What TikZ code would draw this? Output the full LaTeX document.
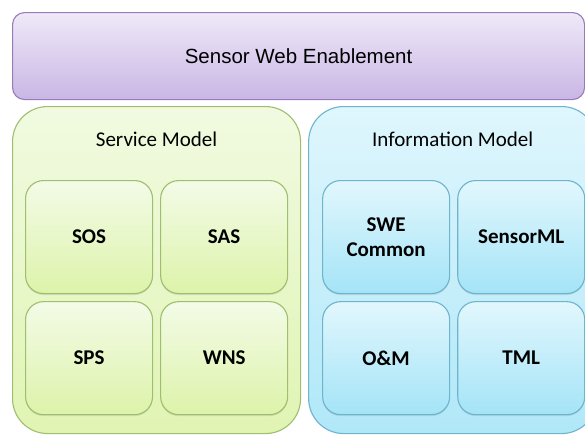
\documentclass[tikz,border=0pt]{standalone}
\usepackage{fontspec}
\setmainfont{Carlito}
\newfontfamily\arialfont{Liberation Sans}
\usetikzlibrary{positioning,shadows}

\definecolor{sweborder}{RGB}{150,125,186}
\definecolor{swetop}{RGB}{239,233,248}
\definecolor{swebottom}{RGB}{201,182,229}
\definecolor{servborder}{RGB}{160,190,112}
\definecolor{servtop}{RGB}{243,251,231}
\definecolor{servbottom}{RGB}{221,243,170}
\definecolor{infoborder}{RGB}{110,180,204}
\definecolor{infotop}{RGB}{226,247,253}
\definecolor{infobottom}{RGB}{164,228,247}

\begin{document}
\begin{tikzpicture}[x=1pt,y=1pt,
    font=\fontsize{21}{25}\selectfont,
    bigbox/.style={rectangle,
          rounded corners=35pt,
          line width=1.1pt,
          minimum width=288pt,
          minimum height=327pt,
          inner sep=0pt},
    servbox/.style={rectangle,
          rounded corners=18pt,
          line width=1.1pt,
          minimum width=127pt,
          minimum height=113pt,
          draw=servborder,
          top color=servtop,
          bottom color=servbottom,
          drop shadow={opacity=0.2,shadow xshift=0pt,shadow yshift=-1.5pt},
          font=\fontsize{21}{25}\selectfont\bfseries,
          align=center},
    infobox/.style={servbox,
          draw=infoborder,
          top color=infotop,
          bottom color=infobottom}]

   \clip (0,0) rectangle (585,-434);
   \fill[white] (0,0) rectangle (585,-434);

   % top layer
   \node[rectangle,
          rounded corners=12pt,
          line width=1.1pt,
          minimum width=572pt,
          minimum height=87pt,
          anchor=north west,
          draw=sweborder,
          top color=swetop,
          bottom color=swebottom,
          font=\arialfont\fontsize{20.5}{24}\selectfont] (swe) at (12,-12) {Sensor Web Enablement};

   % the two models
   \node[bigbox,
          anchor=north west,
          draw=servborder,
          top color=servtop!90!servbottom,
          bottom color=servbottom!85!servtop] (service) at (12,-106) {};
   \node[bigbox,
          right=7pt of service,
          draw=infoborder,
          top color=infotop!95!infobottom,
          bottom color=infobottom!80!infotop] (info) {};
   \node[anchor=base] (servtitle) at ([yshift=-40pt]service.north) {Service Model};
   \node[anchor=base] (infotitle) at ([yshift=-40pt]info.north) {Information Model};

   % service model parts
   \node[servbox,
          anchor=north west] (sos) at ([shift={(13pt,-74pt)}]service.north west) {SOS};
   \node[servbox,
          right=7pt of sos] (sas) {SAS};
   \node[servbox,
          below=7pt of sos] (sps) {SPS};
   \node[servbox,
          right=7pt of sps] (wns) {WNS};

   % information model parts
   \node[infobox,
          anchor=north west] (common) at ([shift={(14pt,-74pt)}]info.north west) {SWE\\Common};
   \node[infobox,
          right=7pt of common] (sensorml) {SensorML};
   \node[infobox,
          below=7pt of common] (om) {O\&M};
   \node[infobox,
          right=7pt of om] (tml) {TML};
\end{tikzpicture}
\end{document}
